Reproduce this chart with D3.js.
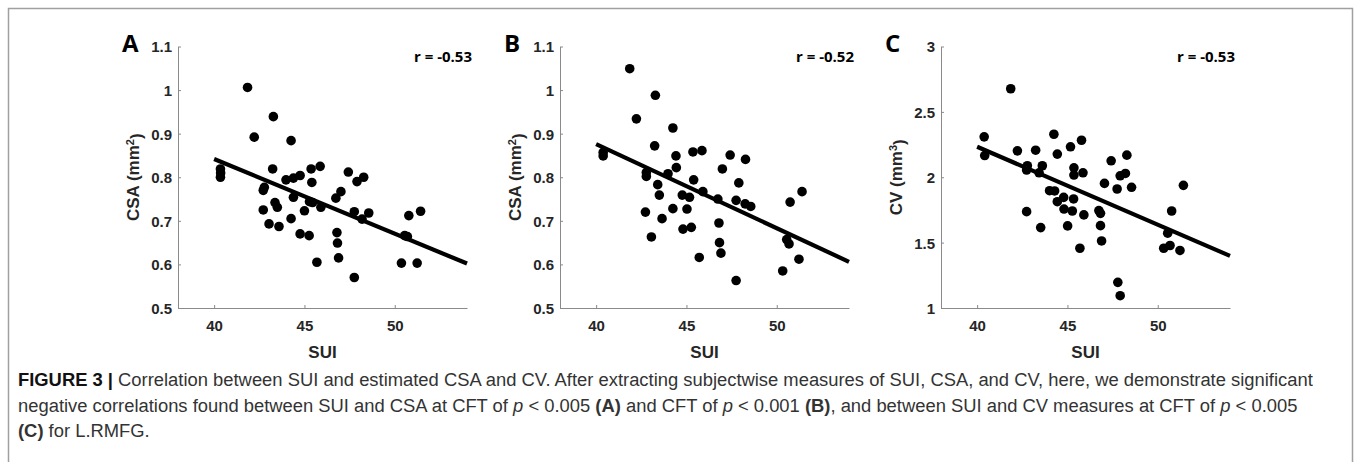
<!DOCTYPE html>
<meta charset="utf-8">
<script src="https://d3js.org/d3.v7.min.js"></script>
<style>
  body { margin: 0; background: #fff; }
  text { font-family: "Liberation Sans", Arial, sans-serif; }
</style>
<div id="fig"></div>
<script>

// values
var suiA = [41.85, 43.28, 42.22, 44.26, 40.35, 40.35, 40.36, 43.24, 42.78, 42.72, 43.98, 44.39, 44.76,
            45.37, 45.87, 45.41, 47.43, 47.91, 48.28, 44.39, 42.72, 43.37, 43.50, 43.04, 43.59,
            44.26, 45.00, 45.28, 45.45, 45.91, 44.76, 45.26, 45.69, 46.80, 46.83, 46.89, 46.74,
            47.02, 47.76, 48.19, 48.56, 47.76, 50.37, 51.24, 50.78, 51.43, 50.55, 50.70];
var csaA = [1.006, 0.939, 0.892, 0.884, 0.819, 0.800, 0.810, 0.819, 0.777, 0.770, 0.794, 0.798, 0.804,
            0.819, 0.825, 0.788, 0.812, 0.790, 0.800, 0.754, 0.725, 0.742, 0.731, 0.693, 0.687,
            0.705, 0.723, 0.744, 0.742, 0.731, 0.670, 0.666, 0.605, 0.673, 0.649, 0.615, 0.752,
            0.767, 0.721, 0.704, 0.718, 0.570, 0.603, 0.603, 0.712, 0.722, 0.666, 0.664];

var suiB = [41.86, 43.28, 42.23, 44.25, 43.24, 40.39, 40.39, 44.42, 45.36, 45.86, 47.42, 48.27,
            42.78, 42.78, 43.98, 44.44, 45.40, 46.99, 47.90, 43.41, 43.50, 44.77, 45.17, 45.91,
            46.74, 47.75, 48.25, 48.56, 42.73, 44.25, 45.03, 43.65, 44.81, 45.27, 46.80, 46.83,
            46.91, 43.06, 45.71, 47.75, 50.33, 50.55, 50.68, 50.74, 51.40, 51.23];
var csaB = [1.049, 0.988, 0.934, 0.913, 0.872, 0.857, 0.849, 0.849, 0.858, 0.861, 0.851, 0.841,
            0.811, 0.802, 0.808, 0.822, 0.794, 0.819, 0.787, 0.783, 0.759, 0.759, 0.754, 0.767,
            0.750, 0.747, 0.739, 0.733, 0.720, 0.728, 0.727, 0.705, 0.681, 0.685, 0.695, 0.650,
            0.626, 0.663, 0.616, 0.563, 0.585, 0.657, 0.647, 0.743, 0.767, 0.612];

var suiC = [41.86, 40.39, 40.42, 42.23, 43.24, 42.78, 42.74, 43.61, 43.43, 44.25, 44.44, 45.17,
            45.78, 45.36, 45.36, 45.86, 44.01, 44.29, 44.44, 44.79, 45.34, 44.81, 45.27, 45.91,
            42.74, 43.52, 45.01, 45.69, 46.74, 46.83, 46.83, 46.89, 47.05, 47.42, 47.75, 47.92,
            48.21, 48.29, 48.55, 47.79, 47.92, 50.55, 50.77, 50.33, 50.68, 51.23, 51.42];
var cvC  = [2.677, 2.309, 2.166, 2.202, 2.207, 2.088, 2.055, 2.088, 2.034, 2.329, 2.177, 2.233,
            2.283, 2.072, 2.017, 2.034, 1.897, 1.895, 1.813, 1.846, 1.834, 1.757, 1.742, 1.712,
            1.737, 1.615, 1.628, 1.457, 1.745, 1.724, 1.630, 1.513, 1.953, 2.126, 1.910, 2.011,
            2.029, 2.169, 1.923, 1.196, 1.094, 1.572, 1.742, 1.457, 1.478, 1.440, 1.938];

// fitted line end points [SUI, value]
var fitA = [[40, 0.842], [54, 0.602]];
var fitB = [[40, 0.876], [54, 0.606]];
var fitC = [[40, 2.233], [54, 1.399]];

var xTicks = [40, 45, 50];
var csaTicks = [0.5, 0.6, 0.7, 0.8, 0.9, 1, 1.1];
var cvTicks = [1, 1.5, 2, 2.5, 3];

var panels = [
  {letter: "A", sui: suiA, val: csaA, fit: fitA, yDomain: [0.5, 1.1], ticks: csaTicks, unit: "CSA (mm", sup: "2", r: "r = -0.53", left: 178},
  {letter: "B", sui: suiB, val: csaB, fit: fitB, yDomain: [0.5, 1.1], ticks: csaTicks, unit: "CSA (mm", sup: "2", r: "r = -0.52", left: 560},
  {letter: "C", sui: suiC, val: cvC,  fit: fitC, yDomain: [1, 3],     ticks: cvTicks,  unit: "CV (mm",  sup: "3", r: "r = -0.53", left: 941}
];

var W = 1355, H = 462;
var svg = d3.select("#fig").append("svg").attr("width", W).attr("height", H);

// frame around the figure
svg.append("path")
  .attr("d", "M8.5," + H + "V8.5H1352.5V" + H)
  .attr("fill", "none").attr("stroke", "#a0a0a0").attr("stroke-width", 1.5);

var plotTop = 46.5, plotBottom = 308, pw = 289;

panels.forEach(function(p) {
  var x = d3.scaleLinear().domain([38, 54]).range([p.left, p.left + pw]);
  var y = d3.scaleLinear().domain(p.yDomain).range([plotBottom, plotTop]);
  var g = svg.append("g");

  var xa = g.append("g")
    .attr("transform", "translate(0," + plotBottom + ")")
    .call(d3.axisBottom(x).tickValues(xTicks).tickSizeInner(-3).tickSizeOuter(0).tickPadding(8));
  var ya = g.append("g")
    .attr("transform", "translate(" + p.left + ",0)")
    .call(d3.axisLeft(y).tickValues(p.ticks).tickFormat(d3.format("~g")).tickSizeInner(-3).tickSizeOuter(0).tickPadding(6));
  [xa, ya].forEach(function(a) {
    a.select(".domain").attr("stroke", "#8a8a8a");
    a.selectAll(".tick line").attr("stroke", "#8a8a8a");
    a.selectAll(".tick text").attr("fill", "#262626").style("font-size", "15px").style("font-weight", "bold")
      .style("font-family", "'Liberation Sans', Arial, sans-serif");
  });
  xa.selectAll(".tick text").attr("dy", "1.0em");
  ya.selectAll(".tick text").attr("dy", "0.36em");

  // points
  g.selectAll("circle").data(p.sui).enter().append("circle")
    .attr("cx", function(d) { return x(d); })
    .attr("cy", function(d, i) { return y(p.val[i]); })
    .attr("r", 4.8).attr("fill", "#000");

  // fit line
  g.append("path")
    .attr("d", d3.line().x(function(d) { return x(d[0]); }).y(function(d) { return y(d[1]); })(p.fit))
    .attr("stroke", "#000").attr("stroke-width", 4.2).attr("fill", "none");

  // axis titles
  g.append("text")
    .attr("x", x(46)).attr("y", 358)
    .attr("text-anchor", "middle")
    .style("font-size", "17px").style("font-weight", "bold").attr("fill", "#262626")
    .text("SUI");
  var yl = g.append("text")
    .attr("transform", "translate(" + (p.left - 39) + "," + ((plotTop + plotBottom) / 2) + ")rotate(-90)")
    .attr("text-anchor", "middle")
    .style("font-size", "17px").style("font-weight", "bold").attr("fill", "#262626");
  yl.append("tspan").text(p.unit);
  yl.append("tspan").attr("dy", "-0.45em").style("font-size", "11px").text(p.sup);
  yl.append("tspan").attr("dy", "0.45em").text(")");

  // panel letter and r
  g.append("text")
    .attr("x", p.left - 56).attr("y", 52)
    .style("font-family", "'Open Sans', sans-serif")
    .style("font-size", "24px").style("font-weight", "bold").attr("fill", "#000")
    .text(p.letter);
  g.append("text")
    .attr("x", p.left + 236).attr("y", 62)
    .style("font-family", "'Open Sans', sans-serif")
    .style("font-size", "15px").style("font-weight", "bold").attr("fill", "#000")
    .text(p.r);
});

// caption
var cap = svg.append("g").style("font-family", "'Liberation Sans', Arial, sans-serif")
  .style("font-size", "15px").attr("fill", "#333");

var l1 = cap.append("text").attr("x", 18).attr("y", 386);
l1.append("tspan").style("font-weight", "bold").attr("fill", "#111").text("FIGURE 3 | ");
l1.append("tspan").text("Correlation between SUI and estimated CSA and CV. After extracting subjectwise measures of SUI, CSA, and CV, here, we demonstrate significant");

var l2 = cap.append("text").attr("x", 18).attr("y", 412);
[["negative correlations found between SUI and CSA at CFT of ", ""], ["p", "i"], [" < 0.005 ", ""], ["(A)", "b"],
 [" and CFT of ", ""], ["p", "i"], [" < 0.001 ", ""], ["(B)", "b"],
 [", and between SUI and CV measures at CFT of ", ""], ["p", "i"], [" < 0.005", ""]].forEach(function(s) {
  var t = l2.append("tspan").text(s[0]);
  if (s[1] == "i") t.style("font-style", "italic");
  if (s[1] == "b") t.style("font-weight", "bold");
});

var l3 = cap.append("text").attr("x", 18).attr("y", 437);
l3.append("tspan").style("font-weight", "bold").text("(C)");
l3.append("tspan").text(" for L.RMFG.");

// the caption's first line spans the box in the reference: size the font to that width
var w1 = l1.node().getComputedTextLength();
cap.style("font-size", (15 * 1296 / w1).toFixed(2) + "px");

</script>
